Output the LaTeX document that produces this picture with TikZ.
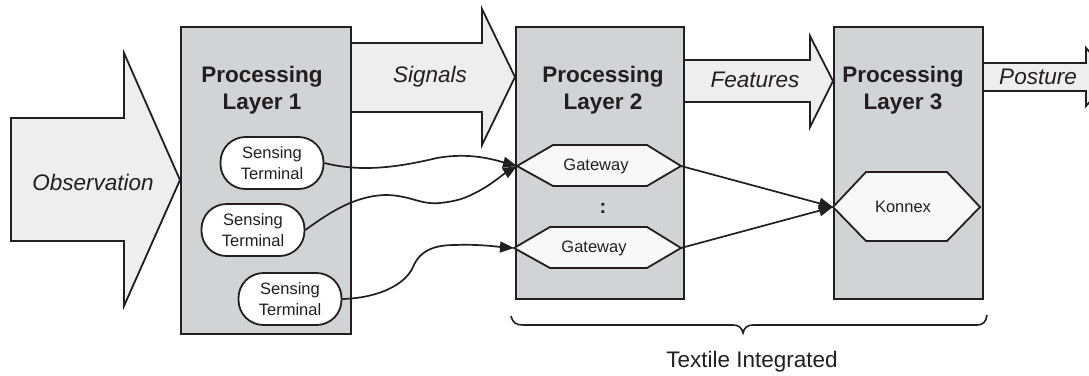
\documentclass[tikz,border=0pt]{standalone}
\usepackage{fontspec}
\setmainfont{Liberation Sans}
\usetikzlibrary{arrows.meta}
\definecolor{layergray}{HTML}{D2D3D5}
\definecolor{flowfill}{HTML}{EEEEEE}
\definecolor{hexfill}{HTML}{F8F8F8}
\definecolor{ink}{HTML}{231F20}

\begin{document}
\begin{tikzpicture}[x=1pt,y=-1pt,
  layer/.style={draw=ink, line width=2.2pt, fill=layergray, inner sep=0pt},
  flow/.style={draw=ink, line width=1.8pt, fill=flowfill, line join=miter},
  flowlabel/.style={font=\fontsize{22.5}{27}\selectfont\itshape, text=ink},
  title/.style={font=\fontsize{22.5}{27.5}\selectfont\bfseries, align=center, text=ink},
  sensor/.style={draw=ink, line width=1.8pt, fill=white, rounded corners=25pt,
    minimum width=103pt, minimum height=52pt, inner sep=0pt, align=center,
    font=\fontsize{16.5}{20.5}\selectfont, text=ink},
  hex/.style={draw=ink, line width=1.8pt, fill=hexfill, line join=miter},
  small/.style={font=\fontsize{16.5}{20}\selectfont, text=ink},
  conn/.style={draw=ink, line width=1.7pt, -{Triangle[length=14pt,width=11pt]}},
]
\clip (0,0) rectangle (1089,375);

% block arrows for the data flow
\path[flow] (11,118) -- (124,118) -- (124,53) -- (180,180) -- (124,306) -- (124,241) -- (11,241) -- cycle;
\path[flow] (350,43) -- (482,43) -- (482,9) -- (515,77) -- (482,145) -- (482,112) -- (350,112) -- cycle;
\path[flow] (683,60) -- (810,60) -- (810,36) -- (833,81) -- (810,127) -- (810,102) -- (683,102) -- cycle;
\path[flow] (982,63) -- (1086,63) -- (1086,48) -- (1112,77) -- (1086,106) -- (1086,91) -- (982,91) -- cycle;

\node[flowlabel] (obs) at (93,182) {Observation};
\node[flowlabel] (sig) at (430,77) {Signals};
\node[flowlabel] (feat) at (755,80) {Features};
\node[flowlabel] (post) at (1038,77) {Posture};

% processing layers
\node[layer, anchor=north west, minimum width=170pt, minimum height=307pt] (L1) at (180,26) {};
\node[layer, anchor=north west, minimum width=168pt, minimum height=272pt] (L2) at (515,26) {};
\node[layer, anchor=north west, minimum width=149pt, minimum height=272pt] (L3) at (833,26) {};

\node[title] (t1) at (262,90) {Processing\\Layer 1};
\node[title] (t2) at (603,90) {Processing\\Layer 2};
\node[title] (t3) at (903,90) {Processing\\Layer 3};

% sensing terminals
\node[sensor] (st1) at (272,163) {Sensing\\Terminal};
\node[sensor] (st2) at (253,230) {Sensing\\Terminal};
\node[sensor] (st3) at (290,299) {Sensing\\Terminal};

% gateways and konnex
\path[hex] (517,166) -- (553,145) -- (647,145) -- (681,166) -- (647,186) -- (553,186) -- cycle;
\path[hex] (514,248) -- (550,227) -- (647,227) -- (681,248) -- (647,268) -- (550,268) -- cycle;
\path[hex] (833,207) -- (866,172) -- (947,172) -- (980,207) -- (947,241) -- (866,241) -- cycle;
\coordinate (gw1w) at (517,166);
\coordinate (gw1e) at (681,166);
\coordinate (gw2w) at (514,248);
\coordinate (gw2e) at (681,248);
\coordinate (kxw) at (833,207);

\node[small] (gw1) at (596,166) {Gateway};
\node[small] (gw2) at (594,248) {Gateway};
\node[small] (kx) at (903,207) {Konnex};
\node[font=\fontsize{20}{20}\selectfont\bfseries, text=ink] (dots) at (603,208) {:};

% connections
\draw[conn] (st1.east) .. controls (360,172) and (395,168) .. (437,158)
  .. controls (470,152) and (495,160) .. (gw1w);
\draw[conn] (st2.east) .. controls (330,212) and (355,196) .. (385,195)
  .. controls (410,195) and (420,205) .. (440,203)
  .. controls (458,201) and (465,198) .. (473,194)
  .. controls (490,186) and (502,175) .. (gw1w);
\draw[conn] (st3.east) .. controls (378,298) and (405,285) .. (413,267)
  .. controls (420,250) and (435,245) .. (455,245)
  .. controls (480,244) and (500,247) .. (gw2w);
\draw[conn] (gw1e) -- (kxw);
\draw[conn] (gw2e) -- (kxw);

% brace over layers 2 and 3
\coordinate (brL) at (511,316);
\coordinate (brR) at (987,315);
\draw[ink, line width=1.6pt] (brL) .. controls (513,323) and (516,325) .. (523,325) -- (733,325)
  .. controls (739,325) and (742,328) .. (743,333)
  .. controls (744,328) and (747,325) .. (753,325) -- (977,325)
  .. controls (983,325) and (986,322) .. (brR);
\node[font=\fontsize{22.5}{27}\selectfont, text=ink] (ti) at (752,362) {Textile Integrated};
\end{tikzpicture}
\end{document}
